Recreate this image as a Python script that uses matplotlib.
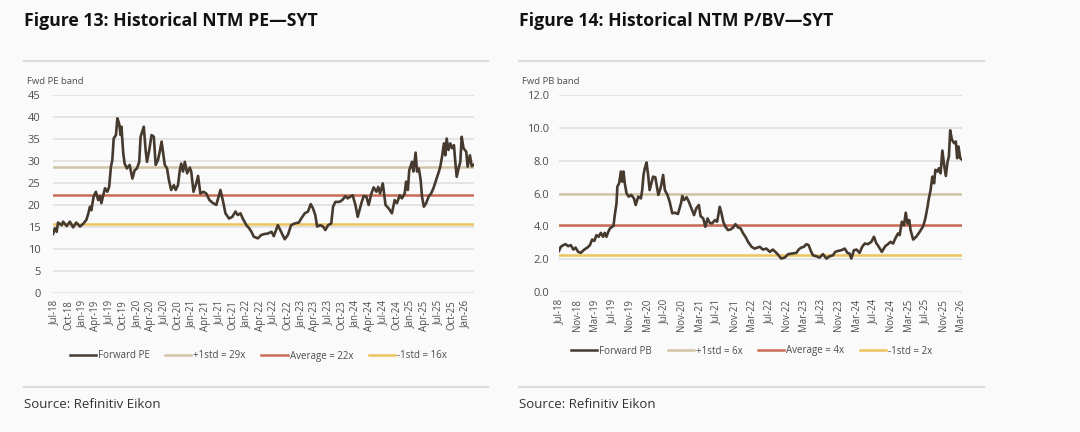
import matplotlib
matplotlib.use("Agg")
import matplotlib.pyplot as plt
from matplotlib.lines import Line2D

plt.rcParams["font.family"] = ["Open Sans", "DejaVu Sans"]

# months since Jul-2018 and forward PE readings
pe_months = [-0.4, 0.0, 0.4, 0.7, 1.5, 1.8, 2.6, 3.3, 4.0, 4.7, 5.5, 6.2, 6.9, 7.3, 7.7, 8.0,
             8.5, 9.0, 9.5, 9.9, 10.2, 10.6, 11.0, 11.5, 11.9, 12.3, 12.6, 12.9, 13.4, 13.7,
             14.1, 14.4, 14.6, 15.0, 15.3, 15.8, 16.4, 17.0, 17.5, 18.0, 18.5, 18.8, 19.5,
             19.9, 20.2, 20.7, 21.2, 21.7, 22.1, 22.6, 23.0, 23.4, 23.7, 24.1, 24.6, 25.0,
             25.5, 26.1, 26.5, 27.0, 27.4, 27.7, 28.1, 28.5, 29.0, 29.6, 29.9, 30.4, 31.0,
             31.4, 31.9, 32.6, 33.2, 33.9, 34.7, 35.4, 35.8, 36.3, 36.9, 37.4, 38.2, 38.9,
             39.6, 40.1, 40.7, 41.2, 42.0, 42.6, 43.1, 43.6, 44.5, 45.3, 46.0, 46.7, 47.5,
             48.0, 48.9, 49.6, 50.4, 51.1, 51.8, 52.6, 53.5, 54.0, 54.8, 55.5, 56.1, 56.6,
             57.1, 57.5, 58.2, 58.8, 59.3, 59.9, 60.6, 61.0, 61.5, 62.4, 63.0, 63.7, 64.2,
             64.8, 65.3, 65.9, 66.4, 67.2, 67.7, 68.3, 68.8, 69.4, 69.9, 70.5, 70.9, 71.3,
             71.9, 72.5, 73.2, 73.9, 74.5, 75.0, 75.6, 76.1, 76.7, 77.0, 77.4, 77.7, 78.3,
             78.6, 79.1, 79.4, 79.8, 80.2, 80.5, 80.9, 81.4, 82.0, 82.5, 83.0, 83.6, 84.2,
             84.5, 84.9, 85.3, 85.6, 85.9, 86.3, 86.7, 87.1, 87.5, 87.8, 88.1, 88.6, 88.9,
             89.2, 89.6, 90.2, 90.5, 91.0, 91.4, 91.8]
pe_values = [13.5, 14.8, 14.0, 16.1, 15.5, 16.3, 15.3, 16.3, 15.0, 16.1, 15.2, 15.8, 16.7, 18.0,
             19.7, 18.9, 22.0, 23.1, 21.2, 22.1, 20.5, 22.3, 23.9, 23.1, 24.2, 28.8, 30.3,
             35.2, 36.0, 39.8, 38.6, 36.0, 37.9, 31.8, 29.5, 28.4, 29.2, 26.1, 28.0, 28.4,
             29.9, 35.6, 37.9, 32.6, 29.9, 32.6, 36.0, 35.6, 29.2, 30.3, 32.2, 34.5, 32.2,
             29.2, 28.4, 25.8, 23.5, 24.6, 23.5, 24.6, 28.0, 29.5, 27.7, 29.9, 27.3, 28.6,
             27.7, 23.1, 25.0, 26.7, 22.7, 23.1, 22.7, 21.2, 20.5, 20.1, 21.6, 23.5, 20.8,
             18.2, 17.0, 17.4, 18.6, 17.8, 18.2, 17.0, 15.5, 14.8, 14.0, 12.9, 12.5, 13.3,
             13.5, 13.6, 14.0, 13.0, 15.5, 14.0, 12.3, 13.3, 15.5, 15.9, 16.1, 17.0, 18.2,
             18.6, 20.3, 19.3, 17.8, 15.2, 15.5, 15.2, 14.4, 15.5, 15.9, 19.7, 20.8, 20.8,
             21.2, 22.1, 21.6, 22.0, 22.3, 20.1, 17.4, 20.5, 22.1, 22.0, 20.1, 22.7, 24.1,
             23.1, 24.2, 22.7, 25.0, 20.1, 19.3, 18.2, 21.2, 20.5, 22.3, 21.6, 22.7, 25.4,
             23.5, 28.0, 29.9, 27.7, 32.0, 27.7, 28.4, 25.8, 22.0, 19.7, 20.5, 22.1, 22.7,
             23.9, 25.8, 27.7, 28.8, 31.1, 34.1, 31.4, 35.2, 32.6, 34.1, 33.0, 33.7, 29.9,
             26.5, 28.8, 29.9, 35.6, 33.0, 32.2, 28.8, 31.4, 28.9, 29.2]

# months since Jul-2018 and forward PB readings
pb_months = [-0.2, 0.2, 0.8, 1.3, 1.9, 2.5, 3.1, 3.6, 4.2, 4.8, 5.6, 6.3, 6.9, 7.4, 7.9, 8.4,
             8.9, 9.4, 9.9, 10.3, 10.7, 11.1, 11.5, 12.0, 12.3, 12.6, 13.0, 13.2, 13.6, 14.0,
             14.3, 14.6, 14.9, 15.3, 15.8, 16.4, 17.0, 17.4, 18.0, 18.6, 18.9, 19.2, 19.5,
             19.9, 20.3, 20.6, 21.0, 21.4, 21.9, 22.6, 23.2, 23.7, 24.1, 24.7, 25.2, 25.8,
             26.4, 27.1, 27.8, 28.1, 28.5, 29.1, 29.6, 30.2, 30.8, 31.3, 31.9, 32.3, 32.9,
             33.4, 33.9, 34.4, 34.9, 35.6, 36.1, 36.7, 37.1, 37.5, 38.0, 38.6, 39.2, 39.8,
             40.3, 40.9, 41.5, 42.0, 42.6, 43.2, 44.0, 44.7, 45.9, 46.6, 47.4, 48.2, 48.9,
             49.7, 50.2, 50.8, 51.6, 52.4, 53.3, 54.3, 54.8, 55.4, 56.0, 56.6, 57.1, 57.6,
             58.1, 58.9, 59.6, 60.4, 61.2, 61.9, 62.7, 63.2, 63.9, 64.6, 65.4, 66.0, 66.5,
             66.9, 67.5, 68.1, 68.8, 69.4, 70.0, 70.7, 71.5, 72.1, 72.6, 73.2, 73.9, 74.7,
             75.3, 75.9, 76.5, 77.0, 77.6, 78.0, 78.5, 79.0, 79.4, 79.8, 80.2, 80.5, 81.1,
             81.8, 82.6, 83.4, 83.9, 84.4, 84.7, 85.1, 85.5, 85.9, 86.2, 86.7, 87.0, 87.4,
             87.8, 88.2, 88.6, 89.0, 89.3, 89.6, 90.0, 90.5, 90.9, 91.2, 91.5, 91.9, 92.2]
pb_values = [2.51, 2.76, 2.86, 2.92, 2.80, 2.86, 2.59, 2.71, 2.45, 2.39, 2.59, 2.71, 2.86, 3.20,
             3.12, 3.47, 3.37, 3.61, 3.37, 3.61, 3.37, 3.67, 3.88, 3.98, 4.02, 4.69, 5.41,
             6.43, 6.63, 7.35, 6.73, 7.35, 6.63, 6.02, 5.82, 5.92, 5.71, 5.31, 5.82, 5.71,
             6.22, 7.14, 7.55, 7.90, 7.04, 6.22, 6.63, 7.04, 7.00, 5.92, 6.43, 7.14, 6.22,
             5.92, 5.51, 4.80, 4.84, 4.76, 5.41, 5.86, 5.61, 5.78, 5.51, 5.10, 4.69, 5.10,
             5.31, 4.63, 4.49, 3.98, 4.49, 4.22, 4.18, 4.39, 4.29, 5.20, 4.80, 4.29, 3.98,
             3.78, 3.82, 3.94, 4.14, 3.94, 3.88, 3.61, 3.37, 3.06, 2.76, 2.65, 2.76, 2.59,
             2.65, 2.45, 2.59, 2.39, 2.24, 2.04, 2.10, 2.31, 2.35, 2.39, 2.59, 2.71, 2.76,
             2.92, 2.86, 2.51, 2.24, 2.18, 2.10, 2.31, 2.04, 2.18, 2.24, 2.45, 2.51, 2.55,
             2.65, 2.39, 2.35, 2.04, 2.55, 2.59, 2.39, 2.76, 2.96, 2.92, 3.06, 3.37, 3.00,
             2.76, 2.45, 2.80, 2.92, 3.06, 2.96, 3.27, 3.57, 3.47, 4.29, 4.08, 4.84, 4.18,
             4.39, 3.78, 3.20, 3.37, 3.67, 4.02, 4.49, 5.20, 5.71, 6.22, 7.04, 6.63, 7.45,
             7.35, 7.55, 7.24, 8.63, 7.76, 7.08, 7.96, 8.27, 9.86, 9.29, 9.08, 9.18, 8.16,
             8.88, 8.16, 8.10]

pe_bands = [28.7, 22.3, 15.8]
pe_band_labels = ["+1std = 29x", "Average = 22x", "-1std = 16x"]
pb_bands = [5.96, 4.08, 2.24]
pb_band_labels = ["+1std = 6x", "Average = 4x", "-1std = 2x"]

pe_tick_months = list(range(0, 91, 3))
pe_tick_labels = ["Jul-18", "Oct-18", "Jan-19", "Apr-19", "Jul-19", "Oct-19", "Jan-20", "Apr-20",
                  "Jul-20", "Oct-20", "Jan-21", "Apr-21", "Jul-21", "Oct-21", "Jan-22", "Apr-22",
                  "Jul-22", "Oct-22", "Jan-23", "Apr-23", "Jul-23", "Oct-23", "Jan-24", "Apr-24",
                  "Jul-24", "Oct-24", "Jan-25", "Apr-25", "Jul-25", "Oct-25", "Jan-26"]
pb_tick_months = list(range(0, 93, 4))
pb_tick_labels = ["Jul-18", "Nov-18", "Mar-19", "Jul-19", "Nov-19", "Mar-20", "Jul-20", "Nov-20",
                  "Mar-21", "Jul-21", "Nov-21", "Mar-22", "Jul-22", "Nov-22", "Mar-23", "Jul-23",
                  "Nov-23", "Mar-24", "Jul-24", "Nov-24", "Mar-25", "Jul-25", "Nov-25", "Mar-26"]

BG = "#fafafa"
GRID = "#dcdcdc"
TEXT = "#4d4d4d"
MAIN = "#46392e"
BAND_COLORS = ["#d2c4a6", "#c96b55", "#ebc45e"]


def draw_panel(fig, rect, months, values, bands, band_labels, main_label,
               ticks, tick_labels, ylim, yticks, yfmt, xlim, ypad, legend_xy):
    ax = fig.add_axes(rect)
    ax.set_facecolor(BG)
    for y in yticks:
        ax.axhline(y, color=GRID, lw=1.1, zorder=0)
    for y, c in zip(bands, BAND_COLORS):
        ax.axhline(y, color=c, lw=1.8, zorder=1)
    ax.plot(months, values, color=MAIN, lw=1.9, zorder=2)
    ax.set_xlim(*xlim)
    ax.set_ylim(*ylim)
    ax.set_yticks(yticks)
    ax.set_yticklabels([yfmt.format(v) for v in yticks], fontsize=8, color=TEXT)
    ax.set_xticks(ticks)
    ax.set_xticklabels(tick_labels, rotation=90, fontsize=6.9, color=TEXT)
    ax.tick_params(length=0, pad=5)
    ax.tick_params(axis="y", pad=ypad)
    for s in ax.spines.values():
        s.set_visible(False)
    handles = [Line2D([], [], color=MAIN, lw=1.8, label=main_label)]
    handles += [Line2D([], [], color=c, lw=1.8, label=l) for c, l in zip(BAND_COLORS, band_labels)]
    fig.legend(handles=handles, loc="center", bbox_to_anchor=legend_xy, ncol=4,
               frameon=False, fontsize=7, handlelength=2.7, handletextpad=0.2,
               columnspacing=1.6, labelcolor=TEXT)
    return ax


fig = plt.figure(figsize=(10.8, 4.32), dpi=100, facecolor=BG)

draw_panel(fig, [0.0491, 0.321, 0.3898, 0.458], pe_months, pe_values, pe_bands,
           pe_band_labels, "Forward PE", pe_tick_months, pe_tick_labels,
           (0, 45), list(range(0, 46, 5)), "{:d}", (-0.4, 91.9), 9, (0.239, 1 - 356 / 432))
draw_panel(fig, [0.5176, 0.324, 0.3731, 0.4554], pb_months, pb_values, pb_bands,
           pb_band_labels, "Forward PB", pb_tick_months, pb_tick_labels,
           (0, 12), [0, 2, 4, 6, 8, 10, 12], "{:.1f}", (-0.2, 92.3), 7, (0.696, 1 - 351 / 432))

# titles, subtitles, separators and sources
for x0, x1, title, sub in [(24, 488, "Figure 13: Historical NTM PE\u2014SYT", "Fwd PE band"),
                           (519, 984, "Figure 14: Historical NTM P/BV\u2014SYT", "Fwd PB band")]:
    fig.text(x0 / 1080, 1 - 21 / 432, title, fontsize=12.7, fontweight="bold",
             color="#111111", va="center", ha="left")
    fig.add_artist(Line2D([x0 / 1080, x1 / 1080], [1 - 61 / 432] * 2, color=GRID, lw=1.5))
    fig.text((x0 + 3) / 1080, 1 - 81 / 432, sub, fontsize=6.8, color=TEXT, va="center")
    fig.add_artist(Line2D([x0 / 1080, x1 / 1080], [1 - 387 / 432] * 2, color=GRID, lw=1.5))
    fig.text(x0 / 1080, 1 - 405 / 432, "Source: Refinitiv Eikon", fontsize=9.5,
             color="#333333", va="center")

fig.savefig("out.png", dpi=100, facecolor=BG)
